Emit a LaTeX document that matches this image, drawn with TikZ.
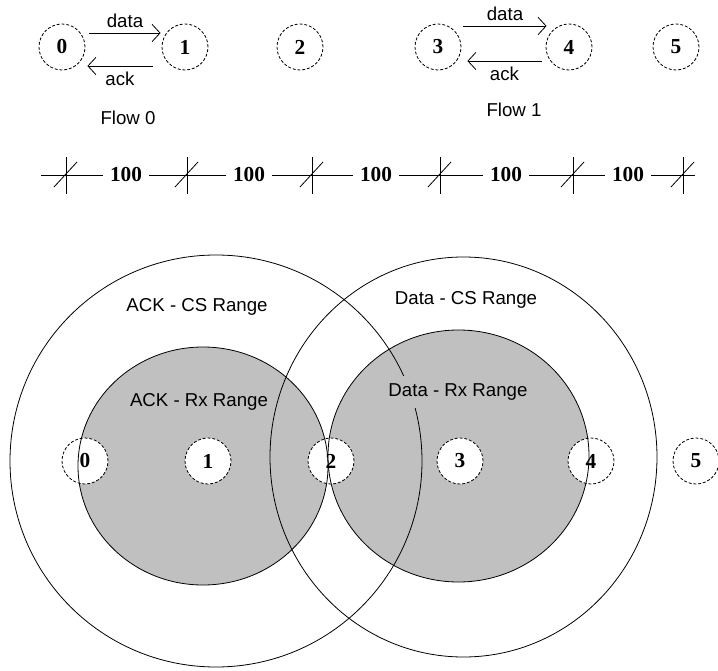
\documentclass[tikz,border=0pt]{standalone}
\usepackage{fontspec}
\setmainfont{Liberation Serif}
\newfontfamily\labelfont{Liberation Sans}
\usetikzlibrary{positioning,arrows.meta}
\definecolor{rxgray}{HTML}{C0C0C0}

\tikzset{
  stn/.style={circle, draw, fill=white, dash pattern=on 2.2pt off 1.4pt,
    minimum size=34.5pt, inner sep=0pt, font=\fontsize{16}{18}\selectfont\bfseries},
  lbl/.style={font=\labelfont\fontsize{14}{16}\selectfont, inner sep=1pt},
  rangelbl/.style={lbl, fill=rxgray, inner xsep=2pt, inner ysep=6pt},
  hop/.style={font=\fontsize{16}{18}\selectfont\bfseries, fill=white, inner xsep=5pt},
  flowarrow/.style={-{Straight Barb[length=6pt,width=13pt]}}
}

\begin{document}
\begin{tikzpicture}[x=0.75pt, y=-0.75pt, line width=0.6pt]
\useasboundingbox (0,0) rectangle (718,671);

% Stations and the two flows
\foreach \x/\n in {62/0,185/1,300/2,438/3,569/4,676/5}
  \node[stn] (a\n) at (\x,47) {\n};

\draw[flowarrow] ([shift={(4,-14)}]a0.east) -- node[lbl, above=3pt] {data} ([shift={(-1,-14)}]a1.west);
\draw[flowarrow] ([shift={(-9,19)}]a1.west) -- node[lbl, below=3pt] {ack} ([shift={(2,19)}]a0.east);
\draw[flowarrow] ([shift={(2,-21)}]a3.east) -- node[lbl, above=3pt] {data} ([shift={(1,-21)}]a4.west);
\draw[flowarrow] ([shift={(-4,14)}]a4.west) -- node[lbl, below=3pt] {ack} ([shift={(6,14)}]a3.east);

\node[lbl] (flow0) at (128,118) {Flow 0};
\node[lbl] (flow1) at (514,110) {Flow 1};

% Distances between stations
\draw (41,175) -- (695,175);
\foreach \x in {66,187,312,440,573,683} {
  \draw (\x,157) -- (\x,194);
  \draw (\x-12,187) -- (\x+11,162);
}
\foreach \x in {126,249,376,506,628}
  \node[hop] at (\x,175) {100};

% Rx ranges (filled)
\fill[rxgray] (203,466) ellipse [x radius=125, y radius=119];
\fill[rxgray] (458.5,456) ellipse [x radius=130.5, y radius=126];

% Stations in range view
\foreach \x/\n in {85/0,208/1,331/2,460/3,591/4,696/5}
  \node[stn] (b\n) at (\x,461) {\n};

% Range outlines
\draw (203,466) ellipse [x radius=125, y radius=119];
\draw (458.5,456) ellipse [x radius=130.5, y radius=126];
\draw (216,461) ellipse [x radius=206, y radius=206];
\draw (463.5,457) ellipse [x radius=193.5, y radius=200];

% Range labels
\node[lbl] (ackcs) at (197,307) {ACK - CS Range};
\node[rangelbl] (ackrx) at (199,402) {ACK - Rx Range};
\node[lbl] (datacs) at (466,300) {Data - CS Range};
\node[rangelbl] (datarx) at (458,392) {Data - Rx Range};

\end{tikzpicture}
\end{document}
